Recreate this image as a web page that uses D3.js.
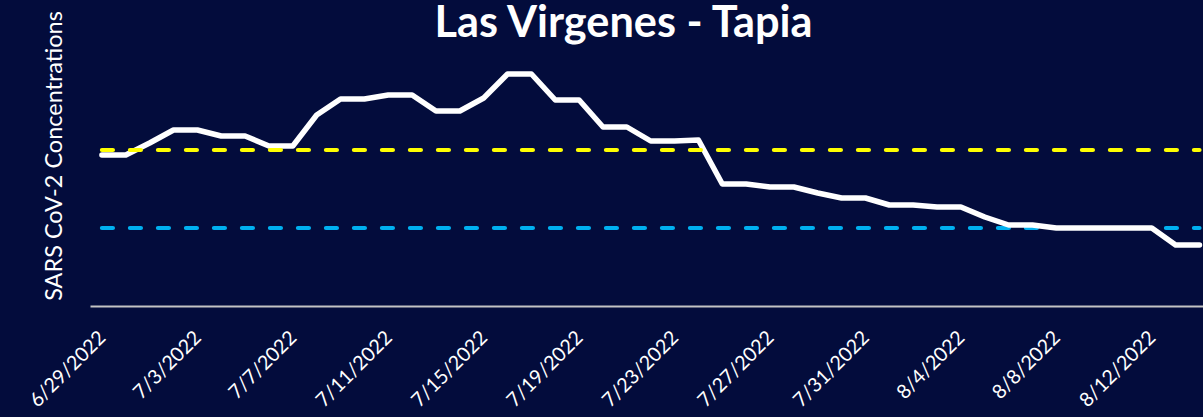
<!DOCTYPE html>
<html>
<head>
<meta charset="utf-8">
<script src="https://cdn.jsdelivr.net/npm/d3@7"></script>
<style>
  html, body { margin: 0; padding: 0; background: #030c3c; }
  svg { display: block; }
</style>
</head>
<body>
<script>
// ---- data ----
const dates = [
  "6/29/2022","6/30/2022","7/1/2022","7/2/2022","7/3/2022","7/4/2022","7/5/2022","7/6/2022",
  "7/7/2022","7/8/2022","7/9/2022","7/10/2022","7/11/2022","7/12/2022","7/13/2022","7/14/2022",
  "7/15/2022","7/16/2022","7/17/2022","7/18/2022","7/19/2022","7/20/2022","7/21/2022","7/22/2022",
  "7/23/2022","7/24/2022","7/25/2022","7/26/2022","7/27/2022","7/28/2022","7/29/2022","7/30/2022",
  "7/31/2022","8/1/2022","8/2/2022","8/3/2022","8/4/2022","8/5/2022","8/6/2022","8/7/2022",
  "8/8/2022","8/9/2022","8/10/2022","8/11/2022","8/12/2022","8/13/2022","8/14/2022"
];
const concentrations = [
  151,151,163,176,176,170,170,160,160,191,207,207,211,211,195,195,
  208,232,232,206,206,179,179,165,165,166,122,122,119,119,113,108,
  108,101,101,99,99,89,81,81,78,78,78,78,78,61,61
];
const highThreshold = 156;   // yellow dashed
const lowThreshold = 78;     // blue dashed
const tickLabels = [
  "6/29/2022","7/3/2022","7/7/2022","7/11/2022","7/15/2022","7/19/2022",
  "7/23/2022","7/27/2022","7/31/2022","8/4/2022","8/8/2022","8/12/2022"
];
const titleText = "Las Virgenes - Tapia";
const yAxisTitle = "SARS CoV-2 Concentrations";

// ---- layout ----
const W = 1203, H = 417;
const bg = "#030c3c";
const font = "Lato, 'Open Sans', sans-serif";

const svg = d3.select("body").append("svg")
  .attr("width", W).attr("height", H);
svg.append("rect").attr("width", W).attr("height", H).attr("fill", bg);

const x = d3.scaleBand().domain(dates).range([90, 90 + dates.length * 23.86]);
const xc = d => x(d) + x.bandwidth() / 2;
const y = d3.scaleLinear().domain([0, 300]).range([306, 6]);

// x axis
const axis = d3.axisBottom(x).tickValues(tickLabels).tickSize(0).tickSizeOuter(0);
const gx = svg.append("g").attr("transform", "translate(0,306)").call(axis);
gx.select(".domain").attr("stroke", "#c4c4c4").attr("stroke-width", 2);
gx.selectAll(".tick text")
  .attr("fill", "#ffffff")
  .attr("font-family", font)
  .attr("font-size", 20)
  .attr("text-anchor", "end")
  .attr("dy", null)
  .attr("y", null)
  .attr("transform", "translate(5,33) rotate(-45)");

// fit tick label size
{
  const t = gx.select(".tick text").node();
  const len = t.getComputedTextLength();
  const fs = 20 * 98 / len;
  gx.selectAll(".tick text").attr("font-size", fs);
}

// lines
const lineGen = d3.line().x(d => xc(d.date)).y(d => y(d.v));
const mainData = dates.map((d, i) => ({ date: d, v: concentrations[i] }));
const lowData = dates.map(d => ({ date: d, v: lowThreshold }));
const highData = dates.map(d => ({ date: d, v: highThreshold }));

svg.append("path").datum(lowData).attr("d", lineGen)
  .attr("fill", "none").attr("stroke", "#00b0f0").attr("stroke-width", 4.2)
  .attr("stroke-linecap", "round").attr("stroke-dasharray", "11,17");

svg.append("path").datum(mainData).attr("d", lineGen)
  .attr("fill", "none").attr("stroke", "#ffffff").attr("stroke-width", 5.5)
  .attr("stroke-linejoin", "round").attr("stroke-linecap", "round");

svg.append("path").datum(highData).attr("d", lineGen)
  .attr("fill", "none").attr("stroke", "#ffff00").attr("stroke-width", 4.2)
  .attr("stroke-linecap", "round").attr("stroke-dasharray", "11,17");

// title
const title = svg.append("text")
  .attr("x", 623.5).attr("y", 37)
  .attr("text-anchor", "middle")
  .attr("fill", "#ffffff")
  .attr("font-family", font)
  .attr("font-weight", "bold")
  .attr("font-size", 40)
  .text(titleText);
{
  const len = title.node().getComputedTextLength();
  title.attr("font-size", 40 * 378 / len);
}

// y axis title
const yt = svg.append("text")
  .attr("transform", "translate(62,156) rotate(-90)")
  .attr("text-anchor", "middle")
  .attr("fill", "#ffffff")
  .attr("font-family", font)
  .attr("font-size", 24)
  .text(yAxisTitle);
{
  const len = yt.node().getComputedTextLength();
  yt.attr("font-size", 24 * 290 / len);
}
</script>
</body>
</html>
